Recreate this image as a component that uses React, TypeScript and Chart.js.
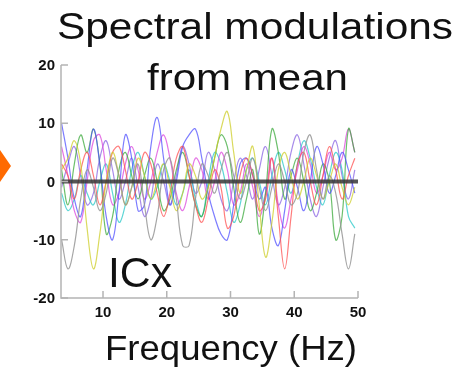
import React, { useEffect, useRef } from "react";
import { Chart, registerables } from "chart.js";

Chart.register(...registerables);

// Frequency samples (Hz)
const FREQ = [
  3.5, 4.5, 5.5, 6.5, 7.5, 8.5, 9.5, 10.5, 11.5, 12.5, 13.5, 14.5, 15.5, 16.5, 17.5, 18.5,
  19.5, 20.5, 21.5, 22.5, 23.5, 24.5, 25.5, 26.5, 27.5, 28.5, 29.5, 30.5, 31.5, 32.5, 33.5,
  34.5, 35.5, 36.5, 37.5, 38.5, 39.5, 40.5, 41.5, 42.5, 43.5, 44.5, 45.5, 46.5, 47.5, 48.5, 49.5,
];

const GRAY = [-10, -15, -11, -3, 2, -1, -5, -2, 4, 1, -4, -1, 3, -4, -10, -6, 2, 4, -3, -11, -11, -3, 3, 1, -2, 2, 5, 1, -3, 0, 4, -1, -5, -1, 3, 0, -4, -2, 5, 8, 2, -3, 1, -2, -9, -15, -9];
const YELLOW = [2, 4, 7, 3, -8, -15, -9, 0, 5, 1, -4, -1, 4, 1, -3, 0, 3, -1, -5, -2, 3, 1, -3, -1, 4, 9, 12, 5, -2, 2, 6, -4, -13, -7, 2, 5, 1, -3, 0, 4, 1, -3, 0, 3, -1, -4, -1];
const RED = [3, 1, -3, 2, 5, 1, -4, 0, 5, 6, 2, -3, 0, 5, 3, -2, -6, -2, 4, 6, 1, -4, -7, -3, 2, -1, -8, -6, 1, 4, 1, -5, -3, 4, -6, -15, -6, 3, 5, 0, -4, 1, 6, 2, -3, 1, 4];
const BLUE = [10, 4, -3, -6, 2, 9, 3, -6, -10, -2, 8, 4, -5, -4, 6, 11, 4, -4, 0, 6, 8, 9, 4, -2, -6, -9, -10, -4, 3, 4, 1, -3, -1, -8, -11, -5, 2, -1, -5, 0, 6, 3, -2, 1, 5, 2, -2];
const GREEN = [2, -4, 3, 8, 5, 9, 3, -9, -6, 2, 5, 1, -3, 1, 4, 0, -5, -3, 2, 5, 1, -4, -6, -1, 4, 8, 6, -1, -7, -3, 2, -9, -2, 9, 5, -3, 1, 4, 0, -5, -2, 3, 0, -10, -6, 9, 5];
const MAGENTA = [6, 1, -5, -7, 0, 7, 8, 2, -4, -2, 3, 6, 2, -3, 0, 5, 8, 4, -2, -5, -1, 4, 2, -3, 0, 5, 2, -4, -2, 3, -1, -6, -2, 4, -4, -8, -3, 2, 6, 3, -2, 1, 5, 2, 4, 9, 5];
const CYAN = [-2, -5, -3, 1, -2, -4, 0, 3, -2, -7, -4, 2, 5, 1, -3, -1, 3, 0, -4, -2, 2, -3, -6, 0, 5, 3, -2, -7, -4, 2, 4, 0, -4, 1, 5, 2, -2, 3, 7, 4, -1, -4, 1, 5, 2, -6, -8];
const PURPLE = [-1, 3, 6, 1, -4, -2, 4, 7, 2, -3, 0, 4, -1, -6, -3, 3, 0, -4, 1, 6, 3, -2, 0, 5, 2, -3, -5, 0, 4, 1, -3, 2, 6, 1, -4, -1, 5, 8, 3, -3, -6, -1, 4, 7, 1, -3, 2];

const ZERO_X = [3.4, 50];
const ZERO_Y = [0, 0];

const X_TICKS = [10, 20, 30, 40, 50];
const Y_TICKS = [-20, -10, 0, 10, 20];

const SERIES: [number[], string][] = [
  [GRAY, "rgba(150,150,150,0.85)"],
  [YELLOW, "rgba(205,205,40,0.75)"],
  [RED, "rgba(255,80,80,0.75)"],
  [BLUE, "rgba(80,80,255,0.75)"],
  [GREEN, "rgba(60,170,60,0.75)"],
  [MAGENTA, "rgba(220,70,220,0.75)"],
  [CYAN, "rgba(40,200,200,0.75)"],
  [PURPLE, "rgba(130,90,225,0.7)"],
];

const FONT = "'Liberation Sans', Arial, Helvetica, sans-serif";

function drawFitText(ctx: CanvasRenderingContext2D, text: string, left: number, right: number, baseline: number, size: number) {
  ctx.save();
  ctx.font = `${size}px ${FONT}`;
  const w = ctx.measureText(text).width;
  const target = right - left;
  ctx.translate((left + right) / 2, baseline);
  ctx.scale(target / w, 1);
  ctx.textAlign = "center";
  ctx.textBaseline = "alphabetic";
  ctx.fillStyle = "#111";
  ctx.fillText(text, 0, 0);
  ctx.restore();
}

const decorPlugin = {
  id: "decor",
  afterDraw(chart: any) {
    const ctx: CanvasRenderingContext2D = chart.ctx;
    const xs = chart.scales.x;
    const ys = chart.scales.y;
    const x0 = xs.getPixelForValue(xs.min);
    const x1 = xs.getPixelForValue(50);
    const yb = ys.getPixelForValue(-20);
    const yt = ys.getPixelForValue(20);

    ctx.save();
    // axes
    ctx.strokeStyle = "#b4b4b4";
    ctx.lineWidth = 1.5;
    ctx.beginPath();
    ctx.moveTo(x0, yt);
    ctx.lineTo(x0, yb);
    ctx.lineTo(x1, yb);
    ctx.stroke();
    ctx.beginPath();
    for (const t of Y_TICKS) {
      const y = ys.getPixelForValue(t);
      ctx.moveTo(x0, y);
      ctx.lineTo(x0 + 7, y);
    }
    for (const t of X_TICKS) {
      const x = xs.getPixelForValue(t);
      ctx.moveTo(x, yb);
      ctx.lineTo(x, yb - 7);
    }
    ctx.stroke();

    // tick labels
    ctx.fillStyle = "#111";
    ctx.font = `bold 15px ${FONT}`;
    ctx.textAlign = "right";
    ctx.textBaseline = "middle";
    for (const t of Y_TICKS) {
      ctx.fillText(String(t), x0 - 6, ys.getPixelForValue(t) + 1);
    }
    ctx.textAlign = "center";
    for (const t of X_TICKS) {
      ctx.fillText(String(t), xs.getPixelForValue(t), yb + 15);
    }
    ctx.restore();

    // texts
    drawFitText(ctx, "Spectral modulations", 57, 453, 39, 36);
    drawFitText(ctx, "from mean", 147, 348, 90, 36);
    drawFitText(ctx, "ICx", 108, 172, 287, 42);
    drawFitText(ctx, "Frequency (Hz)", 105, 357, 360, 35);

    // orange marker at left edge
    ctx.save();
    ctx.fillStyle = "#ff6a00";
    ctx.beginPath();
    ctx.moveTo(0, 150);
    ctx.lineTo(11, 166);
    ctx.lineTo(0, 182);
    ctx.closePath();
    ctx.fill();
    ctx.restore();
  },
};

export default function App() {
  const ref = useRef<HTMLCanvasElement | null>(null);
  useEffect(() => {
    if (!ref.current) return;
    const datasets: any[] = [
      {
        data: ZERO_X.map((x, i) => ({ x, y: ZERO_Y[i] })),
        borderColor: "rgba(55,55,55,0.85)",
        borderWidth: 4,
        pointRadius: 0,
        tension: 0,
      },
      ...SERIES.map(([vals, color]) => ({
        data: FREQ.map((x, i) => ({ x, y: vals[i] })),
        borderColor: color,
        borderWidth: 1.2,
        pointRadius: 0,
        tension: 0.4,
      })),
    ];
    const chart = new Chart(ref.current, {
      type: "line",
      data: { datasets },
      options: {
        animation: false,
        responsive: false,
        events: [],
        layout: { padding: { left: 61, right: 103, top: 65, bottom: 73 } },
        plugins: { legend: { display: false }, tooltip: { enabled: false }, title: { display: false } },
        scales: {
          x: { type: "linear", min: 3.41, max: 50, display: false },
          y: { type: "linear", min: -20, max: 20, display: false },
        },
      },
      plugins: [decorPlugin],
    });
    return () => chart.destroy();
  }, []);
  return (
    <div style={{ position: "fixed", left: 0, top: 0, width: 461, height: 371, background: "#fff" }}>
      <canvas ref={ref} width={461} height={371} style={{ display: "block" }} />
    </div>
  );
}
